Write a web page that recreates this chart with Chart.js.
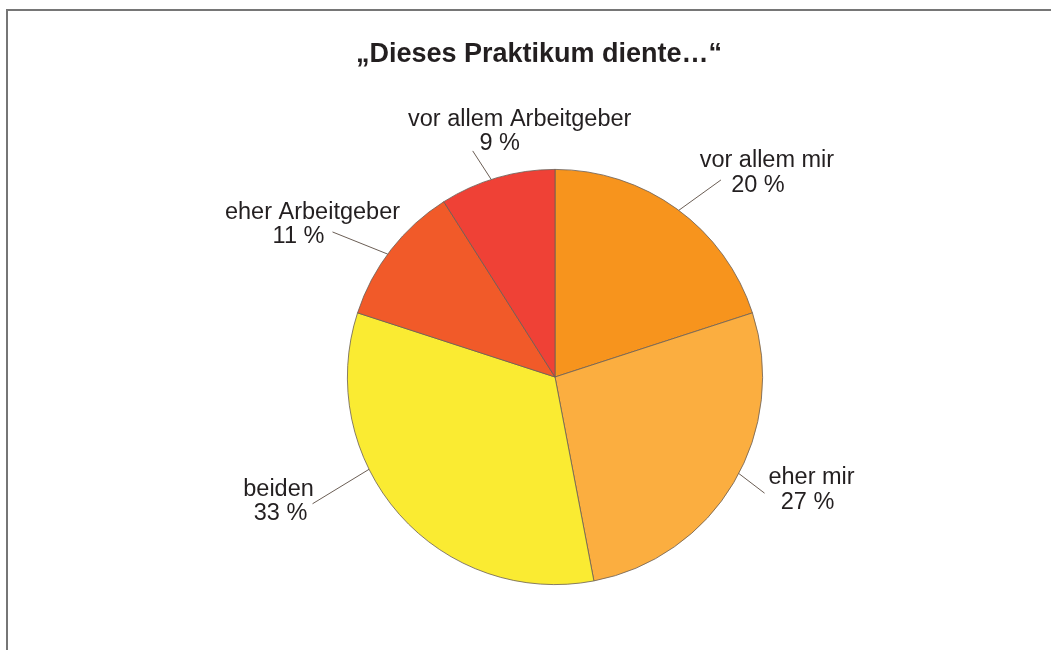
<!DOCTYPE html>
<html>
<head>
<meta charset="utf-8">
<script src="https://cdn.jsdelivr.net/npm/chart.js@4/dist/chart.umd.min.js"></script>
<style>
  html, body { margin: 0; padding: 0; background: #ffffff; }
  #wrap { width: 1051px; height: 650px; position: relative; }
</style>
</head>
<body>
<div id="wrap"><canvas id="c" width="1051" height="650"></canvas></div>
<script>
// ---- data ----
const titleText = '\u201EDieses Praktikum diente\u2026\u201C';
const categories = ['vor allem mir', 'eher mir', 'beiden', 'eher Arbeitgeber', 'vor allem Arbeitgeber'];
const shares = [20, 27, 33, 11, 9];
const sliceColors = ['#F7941D', '#FBAE40', '#FAEB32', '#F15A29', '#EF4136'];

// ---- label layout (relative to each arc's geometry) ----
// dA: angle offset of leader start from slice mid (deg), dA2: angle offset of leader end,
// L: leader extension beyond the rim, l1/l2: text line centre offsets from leader end
const labelLayout = [
  { dA: 0.6,  dA2: 4.1,  L: 50, l1: [46, -13], l2: [37, 12] },
  { dA: -2.9, dA2: -1.6, L: 32, l1: [47, -9],  l2: [43, 16] },
  { dA: 15,   dA2: 13.8, L: 66, l1: [-34, -8], l2: [-32, 16] },
  { dA: -1.5, dA2: -4.7, L: 58, l1: [-20, -13], l2: [-34, 11] },
  { dA: -1.7, dA2: -3.8, L: 33, l1: [47, -25], l2: [27, -1] }
];

const TEXT_COLOR = '#231F20';
const LABEL_FONT = '23.5px "Liberation Sans", Arial, Helvetica, sans-serif';
const TITLE_FONT = 'bold 27px "Liberation Sans", Arial, Helvetica, sans-serif';

const framePlugin = {
  id: 'frame',
  beforeDraw(chart) {
    const ctx = chart.ctx;
    ctx.save();
    ctx.fillStyle = '#ffffff';
    ctx.fillRect(0, 0, chart.width, chart.height);
    ctx.fillStyle = '#767676';
    ctx.fillRect(6, 9, chart.width - 6, 2);
    ctx.fillRect(6, 9, 2, chart.height - 9);
    ctx.restore();
  }
};

const labelPlugin = {
  id: 'leaderLabels',
  afterDatasetsDraw(chart) {
    const ctx = chart.ctx;
    const meta = chart.getDatasetMeta(0);
    ctx.save();
    // title
    ctx.font = TITLE_FONT;
    ctx.fillStyle = TEXT_COLOR;
    ctx.textAlign = 'center';
    ctx.textBaseline = 'alphabetic';
    ctx.fillText(titleText, 539, 62);

    ctx.font = LABEL_FONT;
    meta.data.forEach((arc, i) => {
      const p = arc.getProps(['x', 'y', 'startAngle', 'endAngle', 'outerRadius'], true);
      const mid = (p.startAngle + p.endAngle) / 2;
      const lay = labelLayout[i];
      const a1 = mid + lay.dA * Math.PI / 180;
      const a2 = mid + lay.dA2 * Math.PI / 180;
      const x1 = p.x + Math.cos(a1) * p.outerRadius;
      const y1 = p.y + Math.sin(a1) * p.outerRadius;
      const r2 = p.outerRadius + lay.L;
      const x2 = p.x + Math.cos(a2) * r2;
      const y2 = p.y + Math.sin(a2) * r2;
      ctx.strokeStyle = '#6B5E55';
      ctx.lineWidth = 1;
      ctx.beginPath();
      ctx.moveTo(x1, y1);
      ctx.lineTo(x2, y2);
      ctx.stroke();
      ctx.fillStyle = TEXT_COLOR;
      ctx.textAlign = 'center';
      ctx.fillText(chart.data.labels[i], x2 + lay.l1[0], y2 + lay.l1[1]);
      ctx.fillText(chart.data.datasets[0].data[i] + ' %', x2 + lay.l2[0], y2 + lay.l2[1]);
    });
    ctx.restore();
  }
};

new Chart(document.getElementById('c'), {
  type: 'pie',
  data: {
    labels: categories,
    datasets: [{
      data: shares,
      backgroundColor: sliceColors,
      borderColor: '#6A5E56',
      borderWidth: 0.8
    }]
  },
  options: {
    responsive: false,
    animation: false,
    layout: { padding: { top: 169, bottom: 65, left: 100, right: 41 } },
    plugins: {
      legend: { display: false },
      title: { display: false },
      tooltip: { enabled: false }
    }
  },
  plugins: [framePlugin, labelPlugin]
});
</script>
</body>
</html>
